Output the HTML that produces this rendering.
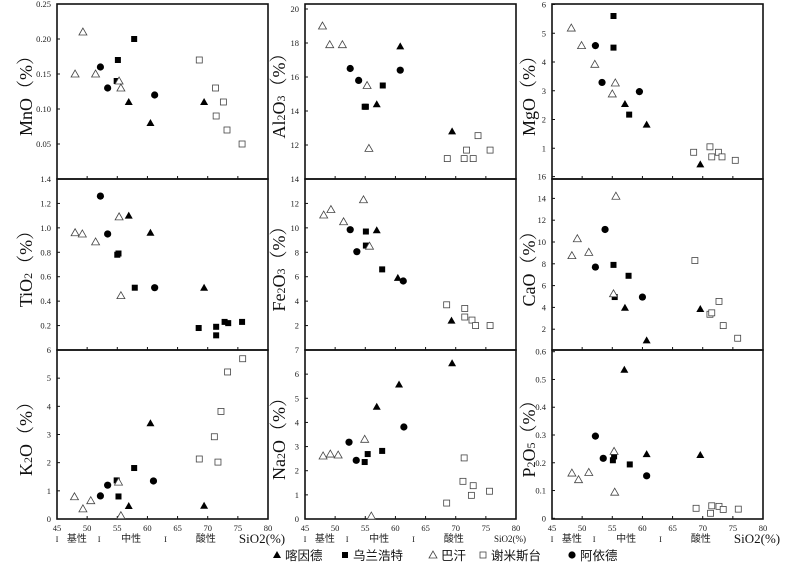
<!DOCTYPE html>
<html><head><meta charset="utf-8"><style>
html,body{margin:0;padding:0;background:#fff;width:800px;height:566px;overflow:hidden}
svg{display:block}
.tk{font-family:"Liberation Serif",serif;font-size:8.5px;fill:#222}
.yl{font-family:"Liberation Serif","Noto Serif CJK SC",serif;font-size:18px;fill:#111}
.cn{font-family:"Liberation Sans","Noto Sans CJK SC",sans-serif;font-size:10px;fill:#222}
.lg{font-family:"Liberation Sans","Noto Sans CJK SC",sans-serif;font-size:12.5px;fill:#111}
</style></head><body>
<svg id="chart" width="800" height="566" xmlns="http://www.w3.org/2000/svg"></svg>
<script>
// ---- data (SiO2 %, oxide %) ----
const MnO_kyd=[[56.9,.11],[60.5,.08],[69.4,.11]];
const MnO_wl=[[57.8,.20],[55.1,.17],[54.9,.14]];
const MnO_bh=[[49.3,.21],[48.0,.15],[51.4,.15],[55.3,.14],[55.6,.13]];
const MnO_xm=[[68.6,.17],[71.3,.13],[71.4,.09],[72.6,.11],[73.2,.07],[75.7,.05]];
const MnO_ayd=[[52.2,.16],[53.4,.13],[61.2,.12]];
const Al_kyd=[[56.9,14.4],[60.8,17.8],[69.4,12.8]];
const Al_wl=[[54.9,14.25],[55.1,14.25],[57.9,15.5]];
const Al_bh=[[47.9,19.0],[49.1,17.9],[51.2,17.9],[55.3,15.5],[55.6,11.8]];
const Al_xm=[[68.6,11.2],[71.4,11.2],[71.8,11.7],[72.9,11.2],[73.7,12.55],[75.7,11.7]];
const Al_ayd=[[52.5,16.5],[53.9,15.8],[60.8,16.4]];
const Mg_kyd=[[57.1,2.54],[60.7,1.82],[69.6,0.44]];
const Mg_wl=[[55.2,5.6],[55.2,4.5],[57.8,2.17]];
const Mg_bh=[[48.2,5.18],[49.9,4.57],[52.1,3.92],[55.5,3.27],[55.0,2.89]];
const Mg_xm=[[68.5,0.86],[71.2,1.05],[71.5,0.70],[72.6,0.86],[73.2,0.70],[75.4,0.58]];
const Mg_ayd=[[52.2,4.57],[53.3,3.29],[59.5,2.97]];
const Ti_kyd=[[56.9,1.10],[60.5,0.96],[69.4,0.51]];
const Ti_wl=[[55.0,0.78],[55.2,0.79],[57.9,0.51],[68.5,0.18],[71.4,0.12],[71.4,0.19],[72.8,0.23],[73.4,0.22],[75.7,0.23]];
const Ti_bh=[[48.0,0.96],[49.2,0.95],[51.4,0.885],[55.3,1.09],[55.6,0.445]];
const Ti_xm=[];
const Ti_ayd=[[52.2,1.26],[53.4,0.95],[61.2,0.51]];
const Fe_kyd=[[56.9,9.8],[60.4,5.9],[69.3,2.4]];
const Fe_wl=[[55.1,9.7],[55.1,8.55],[57.8,6.6]];
const Fe_bh=[[48.1,11.05],[49.3,11.5],[51.4,10.5],[54.7,12.3],[55.7,8.5]];
const Fe_xm=[[68.5,3.7],[71.5,3.4],[71.5,2.7],[72.7,2.45],[73.3,2.0],[75.7,2.0]];
const Fe_ayd=[[52.5,9.85],[53.6,8.05],[61.3,5.65]];
const Ca_kyd=[[57.1,3.97],[60.7,0.98],[69.6,3.85]];
const Ca_wl=[[55.2,7.9],[55.4,4.95],[57.7,6.9]];
const Ca_bh=[[48.3,8.75],[49.2,10.3],[51.1,9.05],[55.6,14.2],[55.2,5.25]];
const Ca_xm=[[68.7,8.3],[71.2,3.37],[71.5,3.5],[72.7,4.55],[73.4,2.33],[75.8,1.17]];
const Ca_ayd=[[53.8,11.15],[52.2,7.7],[60.0,4.95]];
const K_kyd=[[56.9,0.46],[60.5,3.4],[69.4,0.47]];
const K_wl=[[54.9,1.37],[55.2,0.8],[57.8,1.81]];
const K_bh=[[47.9,0.79],[49.3,0.36],[50.6,0.65],[55.2,1.31],[55.6,0.12]];
const K_xm=[[68.6,2.13],[71.1,2.92],[71.7,2.02],[72.2,3.82],[73.3,5.22],[75.8,5.69]];
const K_ayd=[[52.2,0.82],[53.4,1.2],[61.0,1.35]];
const Na_kyd=[[56.9,4.65],[60.6,5.57],[69.4,6.45]];
const Na_wl=[[54.9,2.36],[55.4,2.69],[57.8,2.82]];
const Na_bh=[[48.0,2.61],[49.2,2.69],[50.5,2.65],[54.9,3.3],[56.0,0.12]];
const Na_xm=[[68.5,0.66],[71.2,1.56],[71.4,2.53],[72.6,0.98],[72.9,1.38],[75.6,1.15]];
const Na_ayd=[[52.3,3.18],[53.5,2.43],[61.4,3.81]];
const P_kyd=[[57.0,0.535],[60.7,0.231],[69.6,0.228]];
const P_wl=[[55.1,0.209],[55.3,0.223],[57.9,0.194]];
const P_bh=[[48.3,0.163],[49.4,0.139],[51.1,0.165],[55.3,0.241],[55.4,0.094]];
const P_xm=[[68.9,0.036],[71.3,0.018],[71.5,0.045],[72.7,0.043],[73.4,0.032],[75.9,0.033]];
const P_ayd=[[52.2,0.296],[53.5,0.216],[60.7,0.153]];
const xTicks=[45,50,55,60,65,70,75,80];
const MnO_ticks=[0.05,0.10,0.15,0.20,0.25];
const Al_ticks=[12,14,16,18,20];
const Mg_ticks=[1,2,3,4,5,6];
const Ti_ticks=[0.2,0.4,0.6,0.8,1.0,1.2,1.4];
const Fe_ticks=[2,4,6,8,10,12,14];
const Ca_ticks=[2,4,6,8,10,12,14,16];
const K_ticks=[0,1,2,3,4,5,6];
const Na_ticks=[0,1,2,3,4,5,6,7];
const P_ticks=[0,0.1,0.2,0.3,0.4,0.5,0.6];
const seriesNames=['喀因德','乌兰浩特','巴汗','谢米斯台','阿依德'];

// ---- layout ----
const NS='http://www.w3.org/2000/svg';
const svg=document.getElementById('chart');
const colX=[57,305,552], W=211;
const rows=[[4,179],[179,350],[350,519]];
function mk(tag,at,parent){const e=document.createElementNS(NS,tag);for(const k in at)e.setAttribute(k,at[k]);(parent||svg).appendChild(e);return e;}

const panels=[
 {id:'mno',lab:[['MnO'],['（%）']],c:0,r:0,v0:0,v1:0.25,p0:179,p1:4,tk:MnO_ticks,fmt:2,s:[MnO_kyd,MnO_wl,MnO_bh,MnO_xm,MnO_ayd]},
 {id:'al2o3',lab:[['Al'],['2','s'],['O'],['3','s'],['（%）']],c:1,r:0,v0:10,v1:20,p0:179,p1:9,tk:Al_ticks,fmt:0,s:[Al_kyd,Al_wl,Al_bh,Al_xm,Al_ayd]},
 {id:'mgo',lab:[['MgO'],['（%）']],c:2,r:0,v0:0,v1:6,p0:177,p1:4.5,tk:Mg_ticks,fmt:0,s:[Mg_kyd,Mg_wl,Mg_bh,Mg_xm,Mg_ayd]},
 {id:'tio2',lab:[['TiO'],['2','s'],['（%）']],c:0,r:1,v0:0,v1:1.4,p0:350,p1:179,tk:Ti_ticks,fmt:1,s:[Ti_kyd,Ti_wl,Ti_bh,Ti_xm,Ti_ayd]},
 {id:'fe2o3',lab:[['Fe'],['2','s'],['O'],['3','s'],['（%）']],c:1,r:1,v0:0,v1:14,p0:350,p1:179,tk:Fe_ticks,fmt:0,s:[Fe_kyd,Fe_wl,Fe_bh,Fe_xm,Fe_ayd]},
 {id:'cao',lab:[['CaO'],['（%）']],c:2,r:1,v0:0,v1:16,p0:351,p1:176.6,tk:Ca_ticks,fmt:0,s:[Ca_kyd,Ca_wl,Ca_bh,Ca_xm,Ca_ayd]},
 {id:'k2o',lab:[['K'],['2','s'],['O'],['（%）']],c:0,r:2,v0:0,v1:6,p0:519,p1:350,tk:K_ticks,fmt:0,s:[K_kyd,K_wl,K_bh,K_xm,K_ayd]},
 {id:'na2o',lab:[['Na'],['2','s'],['O'],['（%）']],c:1,r:2,v0:0,v1:7,p0:519,p1:350,tk:Na_ticks,fmt:0,s:[Na_kyd,Na_wl,Na_bh,Na_xm,Na_ayd]},
 {id:'p2o5',lab:[['P'],['2','s'],['O'],['5','s'],['（%）']],c:2,r:2,v0:0,v1:0.6,p0:518.3,p1:351.7,tk:P_ticks,fmt:1,s:[P_kyd,P_wl,P_bh,P_xm,P_ayd]}
];
const labX=[32,285,535];
const sKeys=['kayinde','wulanhaote','bahan','xiemisitai','ayide'];

function marker(k,x,y,g){
  let e;
  if(k===0) e=mk('polygon',{points:`${x},${y-4} ${x-4},${y+3} ${x+4},${y+3}`,fill:'#000'},g);
  else if(k===1) e=mk('rect',{x:x-3,y:y-3,width:6,height:6,fill:'#000'},g);
  else if(k===2) e=mk('polygon',{points:`${x},${y-4} ${x-4},${y+3} ${x+4},${y+3}`,fill:'#fff',stroke:'#444','stroke-width':0.8},g);
  else if(k===3) e=mk('rect',{x:x-3,y:y-3,width:6,height:6,fill:'#fff',stroke:'#444','stroke-width':0.8},g);
  else e=mk('circle',{cx:x,cy:y,r:3.6,fill:'#000'},g);
  return e;
}

panels.forEach(p=>{
  const x0=colX[p.c], [top,bot]=rows[p.r];
  const g=mk('g',{});
  
  
  const xs=v=>x0+(v-45)/35*W;
  const ys=v=>p.p0+(v-p.v0)/(p.v1-p.v0)*(p.p1-p.p0);
  const fr=mk('rect',{x:x0,y:top,width:W,height:bot-top,fill:'none',stroke:'#111','stroke-width':1.6},g);
  
  
  xTicks.forEach(t=>{ if(t>45&&t<80) mk('line',{x1:xs(t),x2:xs(t),y1:bot,y2:bot-3,stroke:'#111','stroke-width':1},g); });
  p.tk.forEach(t=>{
    const y=ys(t);
    mk('line',{x1:x0,x2:x0+3,y1:y,y2:y,stroke:'#111','stroke-width':1},g);
    const tx=mk('text',{x:x0-6,y:y+3,'text-anchor':'end',class:'tk'},g);
    tx.textContent=t===0?'0':t.toFixed(p.fmt);
    
    
  });
  const cy=(top+bot)/2;
  const yl=mk('text',{x:0,y:0,'text-anchor':'middle',class:'yl',transform:`translate(${labX[p.c]},${cy}) rotate(-90)`},g);
  
  
  p.lab.forEach(([t,s])=>{const ts=mk('tspan',s?{'font-size':'12px'}:{},yl);ts.textContent=t;});
  p.s.forEach((arr,k)=>{
    arr.forEach(d=>{
      const m=marker(k,xs(d[0]),ys(d[1]),g);
      
      
    });
  });
});

colX.forEach((x0,c)=>{
  const xs=v=>x0+(v-45)/35*W;
  xTicks.forEach(t=>{
    const tx=mk('text',{x:xs(t),y:531,'text-anchor':'middle',class:'tk'});
    tx.textContent=t;
    
    
  });
  [45,52,63].forEach(t=>{
    const tx=mk('text',{x:xs(t),y:542,'text-anchor':'middle',class:'tk'});
    tx.textContent='I';
    
    
  });
  [['基性',48.3],['中性',57.3],['酸性',69.7]].forEach(([s,t])=>{
    const tx=mk('text',{x:xs(t),y:542,'text-anchor':'middle',class:'cn'});
    tx.textContent=s;
    
    
  });
  const xt=mk('text',{x:x0+205,y:c===1?542:543,'text-anchor':'middle',class:'yl',style:c===1?'font-size:9px':'font-size:13px'});
  xt.textContent='SiO2(%)';
  
  
});

const lgX=[272,340,428,478,567];
seriesNames.forEach((n,k)=>{
  const g=mk('g',{});
  
  
  marker(k,lgX[k]+5,555,g);
  const t=mk('text',{x:lgX[k]+13,y:560,class:'lg'},g);
  t.textContent=n;
});
</script>
</body></html>
